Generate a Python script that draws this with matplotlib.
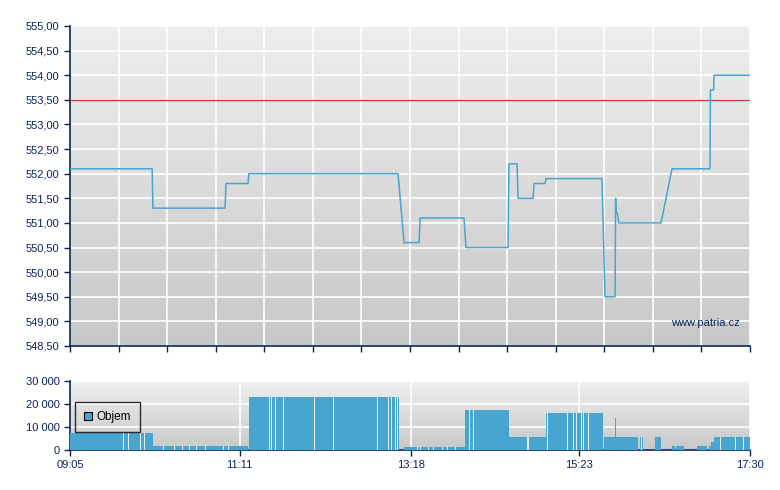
import matplotlib
matplotlib.use('Agg')
import matplotlib.pyplot as plt
from matplotlib.patches import Patch
import numpy as np

plt.rcParams['font.family'] = ['Liberation Sans', 'DejaVu Sans']

# time axis: minutes after 09:05 (session ends 17:30 -> 505)
t_end = 505
time_ticks = [0, 126, 253, 378, 505]
time_labels = ['09:05', '11:11', '13:18', '15:23', '17:30']

# price line
price_t = [0, 61, 61.6, 115.1, 115.9, 132.2, 132.9, 243.6, 248.1, 259.2, 260,
           292.6, 294.1, 325.3, 326, 332, 332.7, 343.9, 344.6, 352.8, 353.5,
           395.1, 397.3, 404.8, 405.2, 405.6, 406.5, 407.5, 438.9, 447.1,
           475.3, 475.6, 478.0, 478.3, 505]
price_v = [552.1, 552.1, 551.3, 551.3, 551.8, 551.8, 552.0, 552.0, 550.6, 550.6, 551.1,
           551.1, 550.5, 550.5, 552.2, 552.2, 551.5, 551.5, 551.8, 551.8, 551.9,
           551.9, 549.5, 549.5, 551.5, 551.2, 551.2, 551.0, 551.0, 552.1,
           552.1, 553.7, 553.7, 554.0, 554.0]
ref_price = 553.5

# volume: (start, end, volume) blocks
vol_start = [0, 61.4, 132.9, 248.1, 293.4, 326.0, 353.5, 396.6, 423.3, 434.5,
             447.1, 450.1, 465.7, 474.6, 476.1, 478.3, 404.8]
vol_end = [61.4, 132.5, 244.1, 293.4, 326.0, 353.5, 395.8, 421.8, 425.5, 438.9,
           449.3, 456.1, 473.1, 476.1, 478.3, 505, 405.4]
vol_val = [7500, 1800, 23000, 1500, 17500, 5700, 16000, 5800, 5800, 5800,
           1700, 1700, 1700, 1700, 3500, 5800, 14000]
# thin breaks between trades
vol_gaps = [39.6, 43.1, 52.0, 55.0, 65.1, 69.1, 77.2, 83.2, 88.2, 93.6, 100.3, 113.4,
            117.3, 148.0, 149.3, 152.2, 158.4, 164.6, 169.8, 176.5, 181.4, 186.9,
            195.5, 228.2, 236.4, 238.4, 241.6, 243.1, 257.7, 259.9, 265.7, 269.6,
            276.1, 279.8, 286.0, 296.6, 299.3, 339.2, 340.4, 354.5, 357.7, 368.9,
            373.6, 375.8, 379.3, 381.2, 383.7, 384.7, 424.3, 482.7, 493.9, 499.8]

navy = '#0c2357'
blue = '#46a6cf'

fig = plt.figure(figsize=(7.8, 4.9), dpi=100)
ax = fig.add_axes([70 / 780, 1 - 346 / 490, 680 / 780, 320 / 490])
axv = fig.add_axes([70 / 780, 1 - 450 / 490, 680 / 780, 69 / 490])


def gradient(a, top, bottom):
    c0 = np.array(matplotlib.colors.to_rgb(top))
    c1 = np.array(matplotlib.colors.to_rgb(bottom))
    k = np.linspace(0, 1, 256)[:, None]
    img = (c0 * (1 - k) + c1 * k)[:, None, :]
    a.imshow(img, extent=[0, 1, 0, 1], transform=a.transAxes, aspect='auto',
             zorder=0, interpolation='bilinear')


def style(a):
    for s in ['top', 'right']:
        a.spines[s].set_visible(False)
    for s in ['left', 'bottom']:
        a.spines[s].set_color(navy)
        a.spines[s].set_linewidth(1.2)
    a.tick_params(direction='out', length=4, color=navy, labelcolor=navy,
                  labelsize=8, width=1)


# price panel
gradient(ax, '#eeeeee', '#c8c8c8')
ax.plot(price_t, price_v, color=blue, lw=1.1, zorder=4)
ax.axhline(ref_price, color='#cc3b3b', lw=1, zorder=3)
ax.set_xlim(0, t_end)
ax.set_ylim(548.5, 555)
yt = np.arange(548.5, 555.01, 0.5)
ax.set_yticks(yt)
ax.set_yticklabels([f'{v:.2f}'.replace('.', ',') for v in yt])
ax.set_xticks(np.linspace(0, t_end, 15))
ax.set_xticklabels([])
ax.grid(True, color='white', lw=1.2)
style(ax)
ax.text(0.985, 0.055, 'www.patria.cz', transform=ax.transAxes, ha='right',
        va='bottom', color=navy, fontsize=8, zorder=5)

# volume panel
gradient(axv, '#f0f0f0', '#c8c8c8')
for s, e, v in zip(vol_start, vol_end, vol_val):
    axv.bar(s, v, width=e - s, align='edge', color=blue, lw=0, zorder=3)
    for g in vol_gaps:
        if s < g < e:
            axv.bar(g, v, width=0.6, align='edge', color='#e6ecef', lw=0, zorder=3)
axv.set_xlim(0, t_end)
axv.set_ylim(0, 30000)
axv.set_yticks([0, 10000, 20000, 30000])
axv.set_yticklabels(['0', '10 000', '20 000', '30 000'])
axv.set_xticks(time_ticks)
axv.set_xticklabels(time_labels)
axv.grid(True, color='white', lw=1.2)
style(axv)
leg = axv.legend(handles=[Patch(facecolor=blue, edgecolor='black', lw=0.8, label='Objem')],
                 loc='lower left', bbox_to_anchor=(0.007, 0.26), fontsize=8.5,
                 frameon=True, fancybox=False, handlelength=0.75, handleheight=0.75,
                 handletextpad=0.35, borderpad=0.75, borderaxespad=0)
leg.get_frame().set_facecolor('none')
leg.get_frame().set_edgecolor('black')
leg.get_frame().set_linewidth(1)
leg.set_zorder(6)

fig.savefig('out.png', dpi=100)
